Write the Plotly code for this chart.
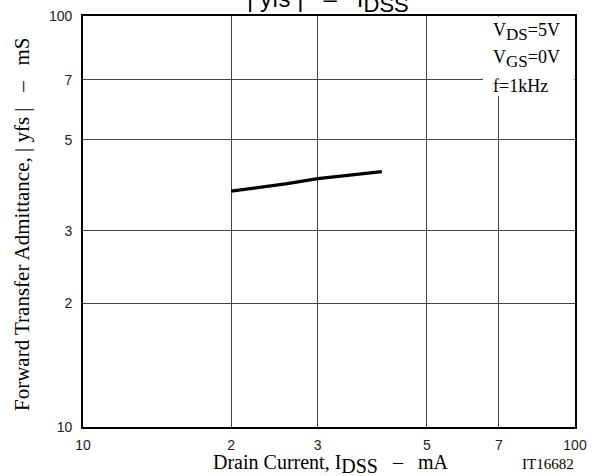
import plotly.graph_objects as go

# data (axis units as printed on the chart's log grid)
idss = [20, 23, 26, 30, 35, 40.5]
yfs = [37.5, 38.3, 39.1, 40.2, 41.0, 41.8]

tick_vals = [10, 20, 30, 50, 70, 100]
tick_text = ["10", "2", "3", "5", "7", "100"]

W, H = 597, 476
L, R, T, B = 83, 22, 16, 49
pw, ph = W - L - R, H - T - B

def px(x):
    return (x - L) / pw

def py(y):
    return (H - B - y) / ph

serif = "Liberation Serif, Times New Roman, serif"
sans = "Liberation Sans, Arial, sans-serif"
NB = "\u00a0"

fig = go.Figure()
fig.add_trace(go.Scatter(x=idss, y=yfs, mode="lines",
                         line=dict(color="black", width=3.2), showlegend=False))

axis_common = dict(type="log", range=[1, 2], tickvals=tick_vals, ticktext=tick_text,
                   showgrid=True, gridcolor="#444", gridwidth=1,
                   showline=True, mirror=True, linecolor="black", linewidth=1.6,
                   ticks="outside", tickcolor="rgba(0,0,0,0)",
                   tickfont=dict(family=sans, size=14, color="#222"),
                   zeroline=False, automargin=False)
fig.update_xaxes(**axis_common, ticklen=4)
fig.update_yaxes(**axis_common, ticklen=6)

# white box behind the conditions text
fig.add_shape(type="rect", xref="paper", yref="paper",
              x0=px(483), x1=px(574.2), y0=py(96), y1=py(16.8),
              fillcolor="white", line=dict(width=0), layer="above")

sub = "<sub><span style='font-size:{}px'>{}</span></sub>"

cond = ["V" + sub.format(17, "DS") + "=5V", "V" + sub.format(17, "GS") + "=0V", "f=1kHz"]
for i, t in enumerate(cond):
    fig.add_annotation(text=t, xref="paper", yref="paper",
                       x=px(491), y=py(32 + 27 * i), xanchor="left", yanchor="middle",
                       showarrow=False, font=dict(family=serif, size=18, color="black"))

fig.add_annotation(text="|" + NB + "yfs" + NB + "|" + NB * 3 + "–" + NB * 3 + "I" + sub.format(22, "DSS"),
                   xref="paper", yref="paper",
                   x=px(328), y=py(10), xanchor="center", yanchor="bottom", yshift=-9,
                   showarrow=False, font=dict(family=sans, size=24, color="black"))

fig.add_annotation(text="Drain Current, I" + sub.format(20, "DSS") + NB * 3 + "–" + NB * 3 + "mA",
                   xref="paper", yref="paper",
                   x=px(331), y=py(464), xanchor="center", yanchor="middle",
                   showarrow=False, font=dict(family=serif, size=20, color="black"))

fig.add_annotation(text="Forward Transfer Admittance, |" + NB + "yfs" + NB + "|" + NB * 3 + "–" + NB * 3 + "mS",
                   xref="paper", yref="paper",
                   x=px(22), y=py(224), xanchor="center", yanchor="middle", textangle=-90,
                   showarrow=False, font=dict(family=serif, size=21, color="black"))

fig.add_annotation(text="IT16682", xref="paper", yref="paper",
                   x=px(548), y=py(464), xanchor="center", yanchor="middle",
                   showarrow=False, font=dict(family=serif, size=15, color="black"))

fig.update_layout(width=W, height=H, margin=dict(l=L, r=R, t=T, b=B, autoexpand=False),
                  paper_bgcolor="white", plot_bgcolor="white", showlegend=False)

fig.write_html("out.html", config={"displayModeBar": False},
               post_script="document.body.style.margin='0px';")
